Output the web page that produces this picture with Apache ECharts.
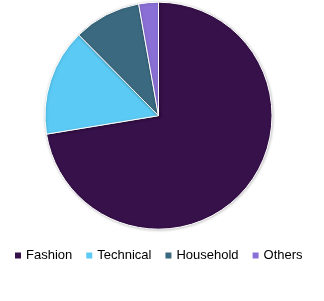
<!DOCTYPE html>
<html>
<head>
<meta charset="utf-8">
<script src="https://cdn.jsdelivr.net/npm/echarts@6/dist/echarts.min.js"></script>
<style>html,body{margin:0;padding:0;background:#fff;}#c{width:324px;height:301px;}</style>
</head>
<body>
<div id="c"></div>
<script>
var categories = ['Fashion', 'Technical', 'Household', 'Others'];
var shares = [72.4, 15.2, 9.6, 2.8];
var colors = ['#37114a', '#5bcbf5', '#3b6a80', '#8a70d6'];

var chart = echarts.init(document.getElementById('c'), null, {renderer: 'canvas'});
chart.setOption({
  animation: false,
  color: colors,
  legend: {
    data: categories,
    left: 15,
    top: 249,
    padding: 0,
    itemWidth: 6,
    itemHeight: 6,
    itemGap: 14,
    icon: 'rect',
    itemStyle: {borderWidth: 0, shadowBlur: 0, shadowOffsetX: 0, shadowOffsetY: 0},
    textStyle: {fontFamily: 'Liberation Sans, Arial', fontSize: 13, color: '#000'}
  },
  series: [{
    type: 'pie',
    center: [158.5, 115.7],
    radius: [0, 113.5],
    startAngle: 90,
    clockwise: true,
    label: {show: false},
    labelLine: {show: false},
    itemStyle: {borderColor: '#fff', borderWidth: 1, shadowBlur: 3, shadowColor: 'rgba(0,0,0,0.25)', shadowOffsetX: 0.5, shadowOffsetY: 0.5},
    emphasis: {disabled: true},
    data: categories.map(function (n, i) { return {name: n, value: shares[i]}; })
  }]
});
</script>
</body>
</html>
